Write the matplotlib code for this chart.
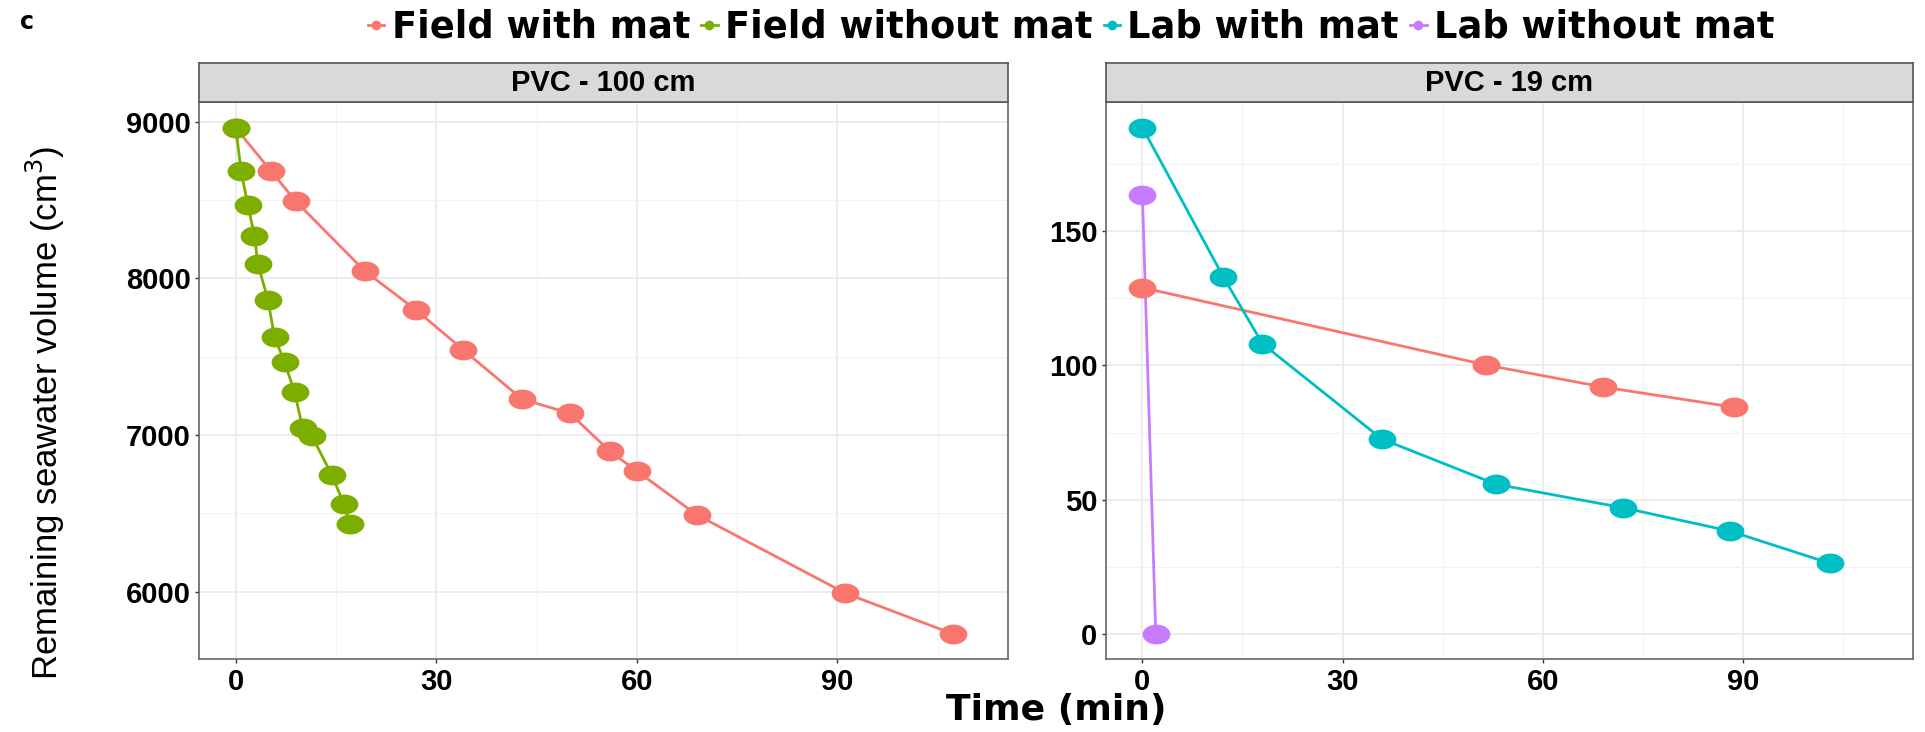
import numpy as np
import matplotlib
matplotlib.use('Agg')
import matplotlib.pyplot as plt
from matplotlib.path import Path
from matplotlib.lines import Line2D

series = ['Field with mat', 'Field without mat', 'Lab with mat', 'Lab without mat']
colors = ['#F8766D', '#7CAE00', '#00BFC4', '#C77CFF']

# PVC - 100 cm
field_mat_100_t = [0, 5.3, 9.0, 19.3, 27.0, 34.0, 42.8, 50.0, 56.0, 60.0, 69.0, 91.2, 107.3]
field_mat_100_v = [8960, 8684, 8491, 8047, 7797, 7545, 7230, 7138, 6895, 6770, 6490, 5990, 5730]
field_nomat_100_t = [0, 0.8, 1.8, 2.8, 3.3, 4.8, 5.8, 7.3, 8.8, 10.0, 11.4, 14.4, 16.2, 17.1]
field_nomat_100_v = [8962, 8684, 8470, 8271, 8092, 7865, 7626, 7466, 7274, 7045, 6992, 6743, 6557, 6430]

# PVC - 19 cm
field_mat_19_t = [0, 51.5, 69.0, 88.6]
field_mat_19_v = [129, 100.2, 92, 84.5]
lab_mat_19_t = [0, 12.1, 18.0, 35.9, 53.0, 72.1, 88.0, 103.1]
lab_mat_19_v = [188.6, 133.1, 108.1, 72.6, 55.8, 47, 38.4, 26.3]
lab_nomat_19_t = [0, 2]
lab_nomat_19_v = [163.6, 0]

panel_titles = ['PVC - 100 cm', 'PVC - 19 cm']
x_ticks = [0, 30, 60, 90]
x_minor = [15, 45, 75, 105]
left_yticks = [6000, 7000, 8000, 9000]
left_yminor = [6500, 7500, 8500]
right_yticks = [0, 50, 100, 150]
right_yminor = [25, 75, 125, 175]

W, H = 1925, 732
fig = plt.figure(figsize=(W / 100, H / 100), dpi=100)

# slightly wide ellipse like the stretched ggplot points
th = np.linspace(0, 2 * np.pi, 64)
ell = Path(np.column_stack([1.4 * np.cos(th), np.sin(th)]), closed=True)

BOLD = dict(family='Liberation Sans', fontweight='bold')
WIDE = dict(family='DejaVu Sans', fontweight='bold')


def px(x0, y0, x1, y1):
    return [x0 / W, 1 - y1 / H, (x1 - x0) / W, (y1 - y0) / H]


def panel(rect, strip_rect, title, data, ylim, yt, ym):
    ax = fig.add_axes(rect)
    for t, v, c in data:
        ax.plot(t, v, color=c, lw=2.0, zorder=2, solid_capstyle='round')
    for t, v, c in data:
        ax.plot(t, v, ls='none', marker=ell, markersize=20, color=c,
                markeredgewidth=0, zorder=3)
    ax.set_xlim(-5.5, 115.5)
    ax.set_ylim(*ylim)
    ax.set_xticks(x_ticks)
    ax.set_xticks(x_minor, minor=True)
    ax.set_yticks(yt)
    ax.set_yticks(ym, minor=True)
    ax.grid(which='major', color='#EBEBEB', lw=1.3, zorder=0)
    ax.grid(which='minor', color='#F2F2F2', lw=0.8, zorder=0)
    ax.set_axisbelow(True)
    for s in ax.spines.values():
        s.set_color('#666666')
        s.set_linewidth(1.2)
    ax.tick_params(which='major', length=3, width=1, color='#333333', pad=3,
                   labelsize=21)
    ax.tick_params(which='minor', length=0)
    for lab in ax.get_xticklabels() + ax.get_yticklabels():
        lab.set_fontfamily('Liberation Sans')
        lab.set_fontweight('bold')
    st = fig.add_axes(strip_rect)
    st.set_facecolor('#D9D9D9')
    st.set_xticks([])
    st.set_yticks([])
    for s in st.spines.values():
        s.set_color('#555555')
        s.set_linewidth(1.2)
    st.text(0.5, 0.5, title, ha='center', va='center', fontsize=21,
            transform=st.transAxes, **BOLD)
    return ax


panel(px(199, 102.3, 1007.7, 659.3), px(199, 63.3, 1007.7, 102.3), panel_titles[0],
      [(field_mat_100_t, field_mat_100_v, colors[0]),
       (field_nomat_100_t, field_nomat_100_v, colors[1])],
      (5568, 9124), left_yticks, left_yminor)

panel(px(1105.7, 102.3, 1913, 659.3), px(1105.7, 63.3, 1913, 102.3), panel_titles[1],
      [(field_mat_19_t, field_mat_19_v, colors[0]),
       (lab_mat_19_t, lab_mat_19_v, colors[2]),
       (lab_nomat_19_t, lab_nomat_19_v, colors[3])],
      (-9.4, 198), right_yticks, right_yminor)

fig.text(1056 / W, 1 - 710 / H, 'Time (min)', ha='center', va='center',
         fontsize=26, **WIDE)
fig.text(45 / W, 1 - 413 / H, 'Remaining seawater volume (cm$^3$)', rotation=90,
         ha='center', va='center', fontsize=25, family='Liberation Sans')
fig.text(27 / W, 1 - 22 / H, 'c', ha='center', va='center', fontsize=17, **WIDE)

handles = [Line2D([], [], color=c, lw=2, marker='o', markersize=6) for c in colors]
leg = fig.legend(handles, series, loc='center', bbox_to_anchor=(1071 / W, 1 - 27 / H),
                 ncol=4, frameon=False, handlelength=0.45, handletextpad=0.2,
                 columnspacing=0.3, prop=dict(family='DejaVu Sans', weight='bold', size=26.5))

fig.savefig('out.png', dpi=100)
